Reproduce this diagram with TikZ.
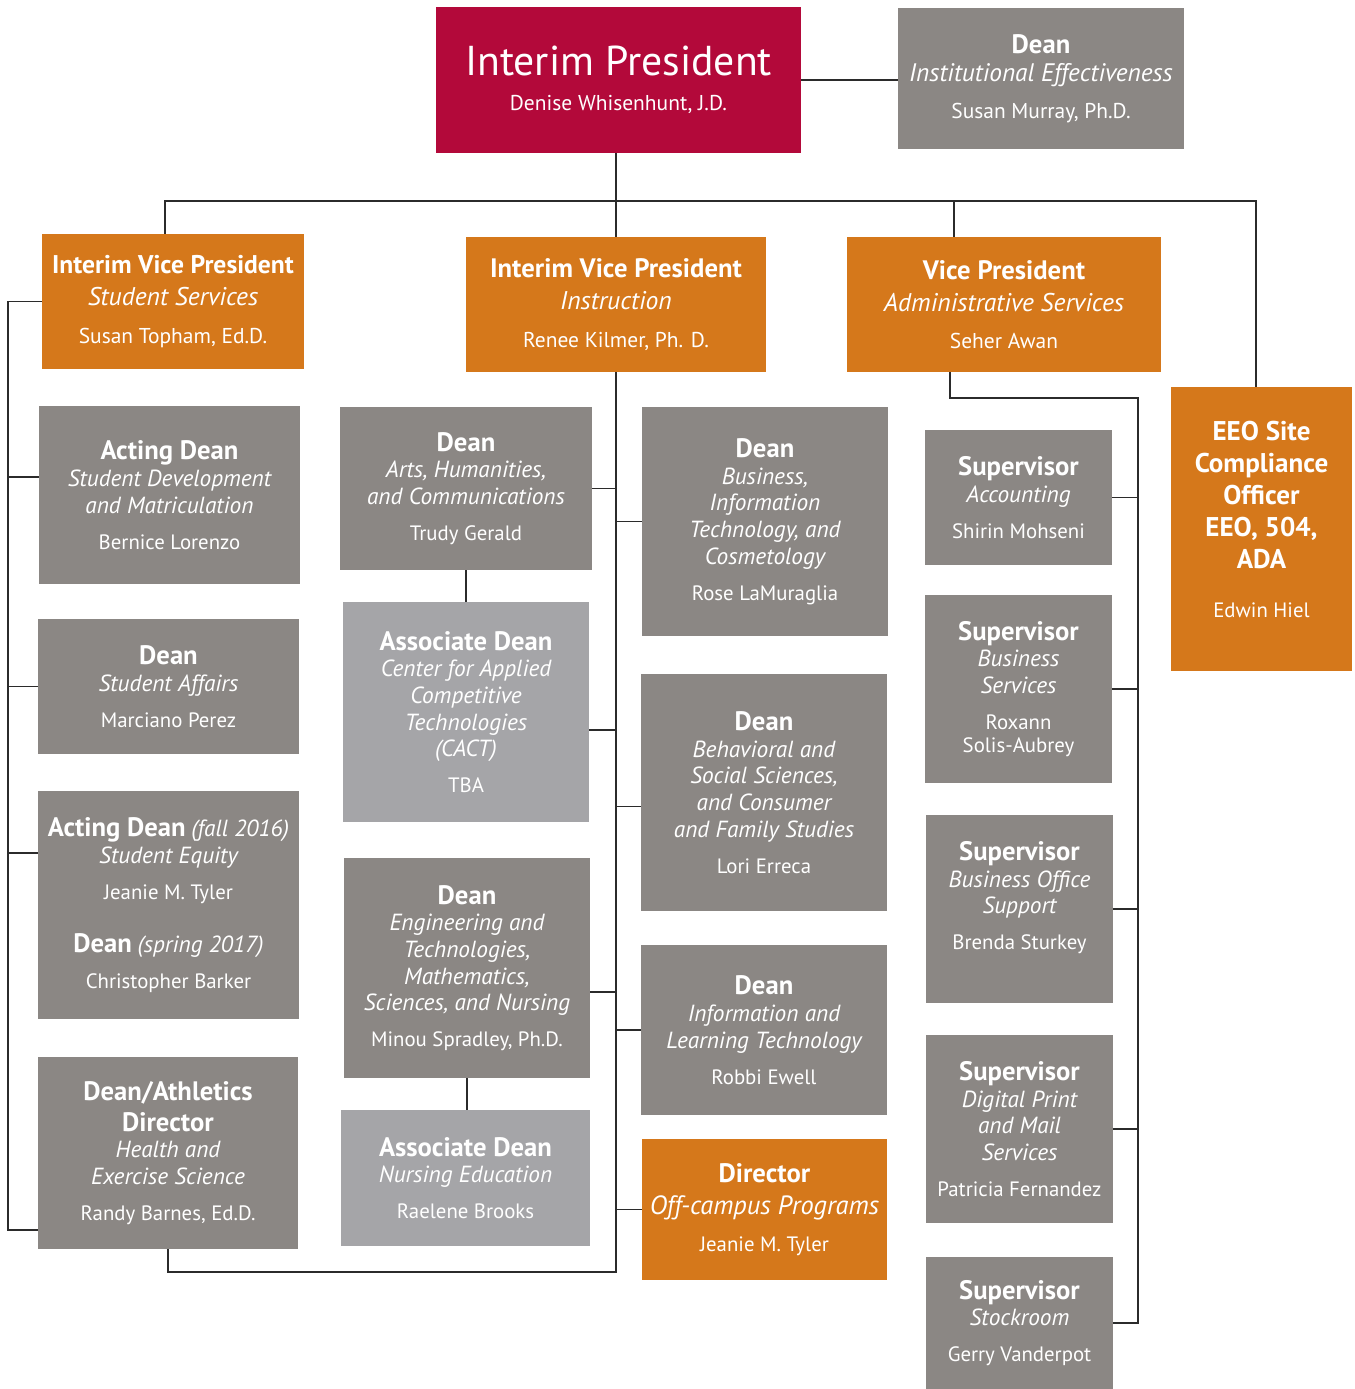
\documentclass[tikz,border=0pt]{standalone}
\usepackage{fontspec}
\setmainfont{PT Sans}

\definecolor{crimson}{HTML}{B3093A}
\definecolor{ochre}{HTML}{D5781B}
\definecolor{stone}{HTML}{8B8784}
\definecolor{mist}{HTML}{A5A5A8}
\definecolor{wire}{HTML}{2B2B2B}

% line kinds inside a box
\newcommand{\ttl}{\fontsize{20}{20}\selectfont\bfseries}
\newcommand{\dpt}{\fontsize{17.5}{20}\selectfont\itshape}
\newcommand{\nm}{\fontsize{15.6}{20}\selectfont}
% the same, a little larger, for the top boxes
\newcommand{\tdpt}{\fontsize{19.2}{20}\selectfont\itshape}
\newcommand{\tnm}{\fontsize{16.1}{20}\selectfont}

\begin{document}
\begin{tikzpicture}[x=0.75pt,y=-0.75pt,font=\fontsize{16}{20}\selectfont]
	
	% Styles for the boxes and the wires
	\tikzset{
		unit/.style={rectangle,inner sep=0pt,text=white,align=center},
		redbox/.style={unit,fill=crimson},
		orangebox/.style={unit,fill=ochre},
		graybox/.style={unit,fill=stone},
		lightbox/.style={unit,fill=mist},
		wh/.style 2 args={minimum width=#1*0.75pt,minimum height=#2*0.75pt},
		wires/.style={draw=wire,line width=1.1pt}
	}
	
	\useasboundingbox (0,0) rectangle (1354,1389);
	
	%========================================
	% Top: president and the dean beside her
	%========================================
	\node[redbox,wh={365}{146}] (pres) at (618.5,80)
	{{\fontsize{31.3}{32}\selectfont Interim President}\\[6pt]
		{\tnm Denise Whisenhunt, J.D.}};
	\node[graybox,wh={286}{141}] (deanie) at (1041,78.5)
	{{\ttl Dean}\\[1pt]{\fontsize{19}{20}\selectfont\itshape Institutional Effectiveness}\\[8pt]
		{\tnm Susan Murray, Ph.D.}};
	
	%========================================
	% Vice presidents and EEO officer
	%========================================
	\node[orangebox,wh={262}{135}] (stud) at (173,301.5)
	{{\fontsize{19.2}{20}\selectfont\bfseries Interim Vice President}\\[4pt]{\tdpt Student Services}\\[8pt]
		{\tnm Susan Topham, Ed.D.}};
	\node[orangebox,wh={300}{135}] (instr) at (616,304.5)
	{{\ttl Interim Vice President}\\[4pt]{\tdpt Instruction}\\[8pt]
		{\tnm Renee Kilmer, Ph. D.}};
	\node[orangebox,wh={314}{135}] (admin) at (1004,304.5)
	{{\ttl Vice President}\\[4pt]{\tdpt Administrative Services}\\[8pt]
		{\tnm Seher Awan}};
	\node[orangebox,wh={181}{284},font=\fontsize{20.3}{24}\selectfont] (eeo) at (1261.5,529)
	{{\bfseries EEO Site}\\{\bfseries Compliance}\\{\bfseries Officer}\\
		{\bfseries EEO, 504,}\\{\bfseries ADA}\\[13pt]{\nm Edwin Hiel}\\[-9pt]{}};
	
	%========================================
	% Student Services column
	%========================================
	\node[graybox,wh={261}{178}] (sdm) at (169.5,495)
	{{\ttl Acting Dean}\\{\dpt Student Development}\\{\dpt and Matriculation}\\[7pt]
		{\nm Bernice Lorenzo}};
	\node[graybox,wh={261}{135}] (sa) at (168.5,686.5)
	{{\ttl Dean}\\{\dpt Student Affairs}\\[7pt]{\nm Marciano Perez}};
	\node[graybox,wh={261}{228}] (equity) at (168.5,905)
	{{\ttl Acting Dean} {\dpt (fall 2016)}\\{\dpt Student Equity}\\[7pt]
		{\nm Jeanie M. Tyler}\\[20pt]
		{\ttl Dean} {\dpt (spring 2017)}\\[7pt]{\nm Christopher Barker}};
	\node[graybox,wh={260}{192}] (athl) at (168,1153)
	{{\ttl Dean/Athletics}\\[3pt]{\ttl Director}\\{\dpt Health and}\\
		{\dpt Exercise Science}\\[7pt]{\nm Randy Barnes, Ed.D.}};
	
	%========================================
	% Instruction: left column
	%========================================
	\node[graybox,wh={252}{163}] (arts) at (466,488.5)
	{{\ttl Dean}\\{\dpt Arts, Humanities,}\\{\dpt and Communications}\\[7pt]
		{\nm Trudy Gerald}};
	\node[lightbox,wh={246}{220}] (cact) at (466,712)
	{{\ttl Associate Dean}\\{\dpt Center for Applied}\\{\dpt Competitive}\\
		{\dpt Technologies}\\{\dpt (CACT)}\\[7pt]{\nm TBA}};
	\node[graybox,wh={246}{220}] (eng) at (467,968)
	{{\ttl Dean}\\{\dpt Engineering and}\\{\dpt Technologies,}\\{\dpt Mathematics,}\\
		{\dpt Sciences, and Nursing}\\[7pt]{\nm Minou Spradley, Ph.D.}};
	\node[lightbox,wh={249}{136}] (nurs) at (465.5,1178)
	{{\ttl Associate Dean}\\{\dpt Nursing Education}\\[7pt]{\nm Raelene Brooks}};
	
	%========================================
	% Instruction: right column
	%========================================
	\node[graybox,wh={246}{229}] (busi) at (765,521.5)
	{{\ttl Dean}\\{\dpt Business,}\\{\dpt Information}\\{\dpt Technology, and}\\
		{\dpt Cosmetology}\\[7pt]{\nm Rose LaMuraglia}};
	\node[graybox,wh={246}{237}] (behav) at (764,792.5)
	{{\ttl Dean}\\{\dpt Behavioral and}\\{\dpt Social Sciences,}\\{\dpt and Consumer}\\
		{\dpt and Family Studies}\\[7pt]{\nm Lori Erreca}};
	\node[graybox,wh={246}{170}] (info) at (764,1030)
	{{\ttl Dean}\\{\dpt Information and}\\{\dpt Learning Technology}\\[7pt]
		{\nm Robbi Ewell}};
	\node[orangebox,wh={245}{141}] (offc) at (764.5,1209.5)
	{{\ttl Director}\\[4pt]{\fontsize{19.8}{20}\selectfont\itshape Off-campus Programs}\\[8pt]
		{\nm Jeanie M. Tyler}};
	
	%========================================
	% Administrative Services column
	%========================================
	\node[graybox,wh={187}{135}] (acct) at (1018.5,497.5)
	{{\ttl Supervisor}\\{\dpt Accounting}\\[7pt]{\nm Shirin Mohseni}};
	\node[graybox,wh={187}{188}] (bsvc) at (1018.5,689)
	{{\ttl Supervisor}\\{\dpt Business}\\{\dpt Services}\\[7pt]{\nm Roxann}\\[-2.5pt]
		{\nm Solis-Aubrey}};
	\node[graybox,wh={187}{188}] (bos) at (1019.5,909)
	{{\ttl Supervisor}\\{\dpt Business Office}\\{\dpt Support}\\[7pt]{\nm Brenda Sturkey}\\{}};
	\node[graybox,wh={187}{188}] (dpm) at (1019.5,1129)
	{{\ttl Supervisor}\\{\dpt Digital Print}\\{\dpt and Mail}\\{\dpt Services}\\[7pt]
		{\nm Patricia Fernandez}};
	\node[graybox,wh={187}{132}] (stock) at (1019.5,1323)
	{{\ttl Supervisor}\\{\dpt Stockroom}\\[7pt]{\nm Gerry Vanderpot}};
	
	%========================================
	% Wires
	%========================================
	\coordinate (bus) at (616,201);
	\coordinate (abus) at (954,201);
	\coordinate (sspine) at (8,1230);
	\coordinate (ispine) at (616,1272);
	\coordinate (atop) at (1138,398);
	\coordinate (aspine) at (1138,1323);
	
	% President level
	\draw[wires] (pres.east) -- (pres.east -| deanie.west);
	\draw[wires] (instr.north |- pres.south) -- (instr.north);
	\draw[wires] ([xshift=-6pt]stud.north) |- (bus) -| ([xshift=-4pt]eeo.north);
	\draw[wires] (abus) -- ([xshift=-37.5pt]admin.north);
	
	% Student Services spine
	\draw[wires] (stud.west) -| (sspine) -- (sspine -| athl.west);
	\draw[wires] ([yshift=13.5pt]sdm.west) -| (sspine);
	\draw[wires] (sa.west) -| (sspine);
	\draw[wires] ([yshift=39pt]equity.west) -| (sspine);
	
	% Instruction spine
	\draw[wires] (instr.south) -- (ispine) -| (athl.south);
	\draw[wires] (arts.east) -| (ispine);
	\draw[wires] (busi.west) -| (ispine);
	\draw[wires] (arts.south) -- (arts.south |- cact.north);
	\draw[wires] ([yshift=-13.5pt]cact.east) -| (ispine);
	\draw[wires] ([yshift=-10.5pt]behav.west) -| (ispine);
	\draw[wires] ([yshift=-18pt]eng.east) -| (ispine);
	\draw[wires] (eng.south) -- (eng.south |- nurs.north);
	\draw[wires] (info.west) -| (ispine);
	\draw[wires] (offc.west) -| (ispine);
	
	% Administrative Services spine
	\draw[wires] ([xshift=-40.5pt]admin.south) |- (atop) -- (aspine) -- (stock.east);
	\draw[wires] (acct.east) -| (aspine);
	\draw[wires] (bsvc.east) -| (aspine);
	\draw[wires] (bos.east) -| (aspine);
	\draw[wires] (dpm.east) -| (aspine);
	
\end{tikzpicture}
\end{document}
